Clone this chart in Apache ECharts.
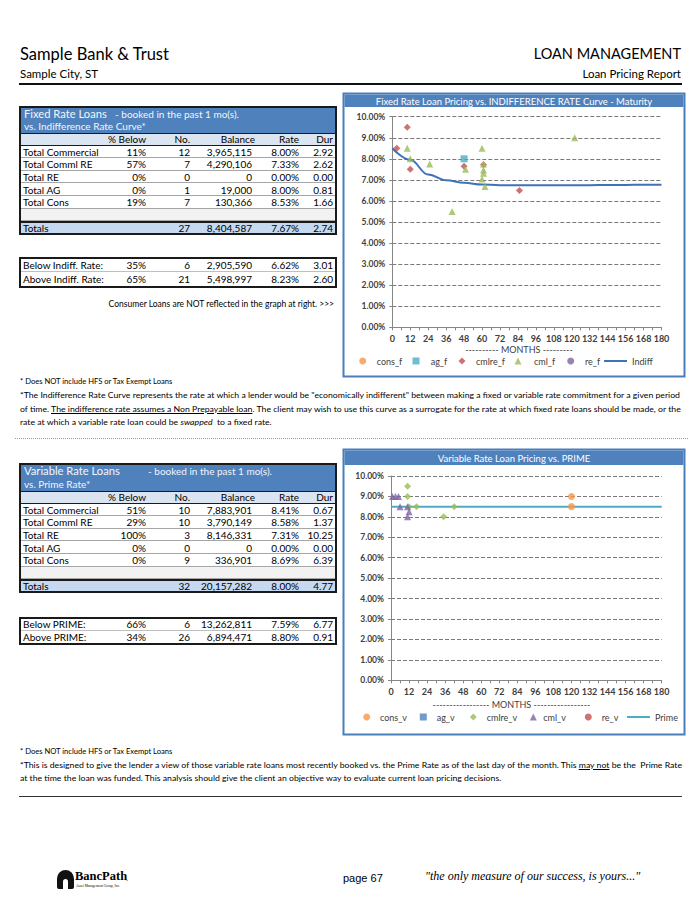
<!DOCTYPE html>
<html><head><meta charset="utf-8">
<script src="https://cdn.jsdelivr.net/npm/echarts@6/dist/echarts.min.js"></script>
<style>
html,body{margin:0;padding:0;background:#fff;}
#page{position:relative;width:700px;height:906px;overflow:hidden;font-family:Lato,"Open Sans",sans-serif;color:#000;}
#chart{position:absolute;left:0;top:0;width:700px;height:906px;}
.t{position:absolute;white-space:nowrap;}
.b{position:absolute;box-sizing:border-box;}
</style></head>
<body><div id="page"><div id="chart"></div></div>
<script>
// ---------------- DATA ----------------
const rowLabels = ['Total Commercial','Total Comml RE','Total RE','Total AG','Total Cons'];
const colHeaders = ['% Below','No.','Balance','Rate','Dur'];

const fixedPctBelow = [11,57,0,0,19];
const fixedNo = [12,7,0,1,7];
const fixedBalance = [3965115,4290106,0,19000,130366];
const fixedRate = [8.00,7.33,0.00,8.00,8.53];
const fixedDur = [2.92,2.62,0.00,0.81,1.66];
const fixedTotals = [null,27,8404587,7.67,2.74];
const fixedSplitLabels = ['Below Indiff. Rate:','Above Indiff. Rate:'];
const fixedSplitPct = [35,65];
const fixedSplitNo = [6,21];
const fixedSplitBalance = [2905590,5498997];
const fixedSplitRate = [6.62,8.23];
const fixedSplitDur = [3.01,2.60];

const varPctBelow = [51,29,100,0,0];
const varNo = [10,10,3,0,9];
const varBalance = [7883901,3790149,8146331,0,336901];
const varRate = [8.41,8.58,7.31,0.00,8.69];
const varDur = [0.67,1.37,10.25,0.00,6.39];
const varTotals = [null,32,20157282,8.00,4.77];
const varSplitLabels = ['Below PRIME:','Above PRIME:'];
const varSplitPct = [66,34];
const varSplitNo = [6,26];
const varSplitBalance = [13262811,6894471];
const varSplitRate = [7.59,8.80];
const varSplitDur = [6.77,0.91];

// chart 1 (months, rate %)
const cons_f = [];
const ag_f = [[48,8.0]];
const cmlre_f = [[3,8.5],[10,9.5],[12,7.5],[48,7.65],[61,7.72],[85,6.5]];
const cml_f = [[10,8.5],[12,8.0],[25,7.75],[40,5.5],[49,7.5],[60,8.5],[61,7.75],[61,7.47],[61,7.31],[60,7.04],[62,6.68],[122,9.0]];
const re_f = [];
const indiffMonths = [0,12,24,36,48,60,72,84,96,108,120,132,144,156,168,180];
const indiffRates = [8.50,7.95,7.25,6.98,6.86,6.78,6.75,6.74,6.74,6.74,6.75,6.75,6.76,6.76,6.77,6.77];

// chart 2
const cons_v = [[120,9.0],[120,8.5]];
const ag_v = [];
const cmlre_v = [[11,9.5],[11,9.0],[12,8.5],[17,8.5],[35,8.0],[42,8.5]];
const cml_v = [[1,9.0],[3,9.0],[5,9.0],[6,8.5],[11,8.5],[12,8.25],[11,8.0]];
const re_v = [];
const primeMonths = [0,180];
const primeRates = [8.5,8.5];

const xTicks = {min:0,max:180,step:12};
const yTicks = {min:0,max:10,step:1};

// ---------------- HTML helpers ----------------
const page = document.getElementById('page');
function T(txt,x,cy,size,o){
  o=o||{};
  const d=document.createElement('div'); d.className='t';
  const h=Math.round(size*1.4);
  d.style.fontSize=size+'px'; d.style.height=h+'px'; d.style.lineHeight=h+'px';
  d.style.top=(cy-h/2)+'px';
  if(o.align==='right'){d.style.right=(700-x)+'px';d.style.textAlign='right';}
  else if(o.align==='center'){d.style.left=(x-300)+'px';d.style.width='600px';d.style.textAlign='center';}
  else d.style.left=x+'px';
  if(o.weight) d.style.fontWeight=o.weight;
  if(o.color) d.style.color=o.color;
  if(o.style) d.style.fontStyle=o.style;
  if(o.family) d.style.fontFamily=o.family;
  if(o.html) d.innerHTML=txt; else d.textContent=txt;
  page.appendChild(d); return d;
}
function B(x,y,w,h,css){
  const d=document.createElement('div'); d.className='b';
  d.style.left=x+'px'; d.style.top=y+'px'; d.style.width=w+'px'; d.style.height=h+'px';
  Object.assign(d.style,css||{}); page.appendChild(d); return d;
}
const fInt=v=>v.toLocaleString('en-US');
const fPct=v=>v+'%';
const fRate=v=>v.toFixed(2)+'%';
const fDur=v=>v.toFixed(2);

const TL=20, TW=316, FS=10;
const colRight=[146,190,252,299,333];
const hdrRight=[146,190,255,299,333];

function buildTable(top,bandH,title,sub,subX,line2,pct,no,bal,rate,dur,tot){
  const rh=12.65, chH=12.5;
  const dataTop=top+bandH+chH;
  const totTop=dataTop+rh*6;
  const bottom=totTop+rh;
  B(TL,top,TW,bandH,{background:'#4f81bd'});
  B(TL,top+bandH,TW,chH,{background:'#dbe5f1',borderTop:'1.5px solid #1a1a1a',borderBottom:'1.5px solid #1a1a1a'});
  for(let i=0;i<6;i++){
    B(TL,dataTop+rh*i,TW,rh,{background:i===5?'#f2f2f2':'#fff',borderBottom:'1px solid #a6a6a6'});
  }
  B(TL,totTop,TW,bottom-totTop,{background:'#c6d9f1',borderTop:'2px solid #1a1a1a'});
  B(TL-1,top-1,TW+2,bottom-top+2,{border:'2px solid #1a1a1a'});
  T(title,24,top+7,11.2,{color:'#f2f6fb'});
  T(sub,subX,top+7,10,{color:'#f2f6fb'});
  T(line2,24,top+bandH-7,10,{color:'#f2f6fb'});
  colHeaders.forEach((h,j)=>T(h,hdrRight[j],top+bandH+chH/2,FS,{align:'right'}));
  for(let i=0;i<5;i++){
    const cy=dataTop+rh*i+rh/2;
    T(rowLabels[i],23,cy,FS);
    T(fPct(pct[i]),colRight[0],cy,FS,{align:'right'});
    T(String(no[i]),colRight[1],cy,FS,{align:'right'});
    T(fInt(bal[i]),colRight[2],cy,FS,{align:'right'});
    T(fRate(rate[i]),colRight[3],cy,FS,{align:'right'});
    T(fDur(dur[i]),colRight[4],cy,FS,{align:'right'});
  }
  const cy=totTop+rh/2;
  T('Totals',23,cy,FS);
  T(String(tot[1]),colRight[1],cy,FS,{align:'right'});
  T(fInt(tot[2]),colRight[2],cy,FS,{align:'right'});
  T(fRate(tot[3]),colRight[3],cy,FS,{align:'right'});
  T(fDur(tot[4]),colRight[4],cy,FS,{align:'right'});
}
function buildSplit(top,rh,labels,pct,no,bal,rate,dur){
  B(TL,top,TW,rh,{borderBottom:'1px solid #bfbfbf'});
  B(TL-1,top-1,TW+2,rh*2+2,{border:'2px solid #1a1a1a'});
  for(let i=0;i<2;i++){
    const cy=top+rh*i+rh/2;
    T(labels[i],23,cy,FS);
    T(fPct(pct[i]),colRight[0],cy,FS,{align:'right'});
    T(String(no[i]),colRight[1],cy,FS,{align:'right'});
    T(fInt(bal[i]),colRight[2],cy,FS,{align:'right'});
    T(fRate(rate[i]),colRight[3],cy,FS,{align:'right'});
    T(fDur(dur[i]),colRight[4],cy,FS,{align:'right'});
  }
}

// header
T('Sample Bank &amp; Trust',20,54,16.5,{html:true});
T('LOAN MANAGEMENT',681,54,14.5,{align:'right'});
T('Sample City, ST',20,74,11.5);
T('Loan Pricing Report',681,74,11.5,{align:'right'});
B(19,83,663,2,{background:'#111'});

buildTable(107,26,'Fixed Rate Loans','- booked in the past 1 mo(s).',115,'vs. Indifference Rate Curve*',
  fixedPctBelow,fixedNo,fixedBalance,fixedRate,fixedDur,fixedTotals);
buildSplit(257.5,14.5,fixedSplitLabels,fixedSplitPct,fixedSplitNo,fixedSplitBalance,fixedSplitRate,fixedSplitDur);
T('Consumer Loans are NOT reflected in the graph at right. >>>',334,304,8.5,{align:'right'});

buildTable(464,27,'Variable Rate Loans','- booked in the past 1 mo(s).',148,'vs. Prime Rate*',
  varPctBelow,varNo,varBalance,varRate,varDur,varTotals);
buildSplit(617.5,13.3,varSplitLabels,varSplitPct,varSplitNo,varSplitBalance,varSplitRate,varSplitDur);

// notes
const NS=7.6;
function noteLines(lines,x,ys,fitW){
  const els=lines.map((l,i)=>T(l,x,ys[i],NS,{html:true}));
  const w=els[0].getBoundingClientRect().width;
  const s=fitW/w;
  els.forEach(e=>{e.style.transformOrigin='0 50%';e.style.transform='scaleX('+s+')';});
}
T('* Does NOT include HFS or Tax Exempt Loans',20,381,NS);
noteLines([
 '*The Indifference Rate Curve represents the rate at which a lender would be "economically indifferent" between making a fixed or variable rate commitment for a given period',
 'of time. <u>The indifference rate assumes a Non Prepayable loan</u>. The client may wish to use this curve as a surrogate for the rate at which fixed rate loans should be made, or the',
 'rate at which a variable rate loan could be <i>swapped</i>&nbsp; to a fixed rate.'
],20,[395,409,422],660);
B(15,438,673,1,{borderTop:'1px dotted #9a9a9a'});
T('* Does NOT include HFS or Tax Exempt Loans',20,751,NS);
noteLines([
 '*This is designed to give the lender a view of those variable rate loans most recently booked vs. the Prime Rate as of the last day of the month. This <u>may not</u> be the&nbsp; Prime Rate',
 'at the time the loan was funded. This analysis should give the client an objective way to evaluate current loan pricing decisions.'
],20,[765,778],662);
B(19,796,663,1,{background:'#333'});

// footer
B(57,870,17,19,{background:'#111',borderRadius:'9px 9px 2px 2px'});
B(63,879,5,10,{background:'#fff',borderRadius:'3px 3px 0 0'});
T('BancPath',75,876,12.5,{family:'"Liberation Serif",serif',weight:'bold'});
T('.',126,878,8,{family:'"Liberation Serif",serif'});
T('Asset Management Group, Inc.',76,886,3.5,{family:'"Liberation Serif",serif'});
T('page 67',343,878,11,{family:'"Liberation Sans",Arial,sans-serif'});
T('"the only measure of our success, is yours..."',425,876,12,{family:'"Liberation Serif",serif',style:'italic'});

// ---------------- CHARTS ----------------
const FONT='Lato';
const chart=echarts.init(document.getElementById('chart'),null,{renderer:'svg',width:700,height:906});
const zip=(a,b)=>a.map((v,i)=>[v,b[i]]);
function xAx(gi){return {type:'value',gridIndex:gi,min:xTicks.min,max:xTicks.max,interval:xTicks.step,
  axisLine:{show:true,onZero:false,lineStyle:{color:'#868686',width:1}},
  axisTick:{show:true,length:3,lineStyle:{color:'#868686'}},
  minorTick:{show:true,splitNumber:2,length:3,lineStyle:{color:'#868686'}},
  splitLine:{show:false},
  axisLabel:{fontSize:9,fontWeight:'bold',color:'#404040',margin:7,fontFamily:FONT}};}
function yAx(gi){return {type:'value',gridIndex:gi,min:yTicks.min,max:yTicks.max,interval:yTicks.step,
  axisLine:{show:true,lineStyle:{color:'#868686',width:1}},
  axisTick:{show:true,length:3,lineStyle:{color:'#868686'}},
  splitLine:{show:true,lineStyle:{type:[4,2],color:'#7a7a7a',width:1}},
  axisLabel:{fontSize:8.5,fontWeight:'bold',color:'#404040',margin:7,fontFamily:FONT,formatter:v=>v.toFixed(2)+'%'}};}
function sc(name,data,color,symbol,gi){return {name,type:'scatter',xAxisIndex:gi,yAxisIndex:gi,data,symbol,symbolSize:7,itemStyle:{color},z:3};}
const LH=12;
const LTS={fontSize:9,color:'#404040',fontFamily:FONT,lineHeight:LH};
function leg(name,icon,markerX,textX,cy){
  const s=7;
  return {data:[{name,icon}],left:markerX-s/2,top:cy-LH/2,padding:0,itemWidth:s,itemHeight:s,
    textStyle:Object.assign({padding:[0,0,0,Math.max(0,textX-(markerX+s/2)-5)]},LTS)};}
function legLine(name,x0,x1,textX,cy){
  return {data:[{name,icon:'rect'}],left:x0,top:cy-LH/2,padding:0,itemWidth:x1-x0,itemHeight:2,
    textStyle:Object.assign({padding:[0,0,0,Math.max(0,textX-x1-5)]},LTS)};}

const option={
  animation:false,
  grid:[{left:392.3,top:116.7,width:269.2,height:210.6},{left:391,top:476,width:270.7,height:204.3}],
  xAxis:[xAx(0),xAx(1)],
  yAxis:[yAx(0),yAx(1)],
  legend:[
    leg('cons_f','circle',362.7,376.7,361), leg('ag_f','rect',416,430.7,361), leg('cmlre_f','diamond',462,476,361),
    leg('cml_f','triangle',518,534,361), leg('re_f','circle',570.7,585,361), legLine('Indiff',604,627,628,361),
    leg('cons_v','circle',366.7,380,717), leg('ag_v','rect',423.3,436.7,717), leg('cmlre_v','diamond',473.3,486.7,717),
    leg('cml_v','triangle',533.3,543.3,717), leg('re_v','circle',588.3,601.7,717), legLine('Prime',627,650,652,717)
  ],
  graphic:[
    {type:'rect',shape:{x:343.5,y:93.5,width:341,height:283},style:{fill:'none',stroke:'#4a7ebb',lineWidth:2}},
    {type:'rect',shape:{x:344.5,y:94.5,width:339,height:12.5},style:{fill:'#4f81bd'}},
    {type:'text',style:{x:514,y:101,text:'Fixed Rate Loan Pricing vs. INDIFFERENCE RATE Curve - Maturity',fill:'#fff',fontSize:9.5,fontFamily:FONT,align:'center',verticalAlign:'middle'}},
    {type:'text',style:{x:519,y:349.5,text:'---------- MONTHS ---------',fill:'#404040',fontSize:9,fontFamily:FONT,align:'center',verticalAlign:'middle'}},
    {type:'rect',shape:{x:343.5,y:449.5,width:341,height:285},style:{fill:'none',stroke:'#4a7ebb',lineWidth:2}},
    {type:'rect',shape:{x:344.5,y:450.5,width:339,height:14.5},style:{fill:'#4f81bd'}},
    {type:'text',style:{x:514,y:458,text:'Variable Rate Loan Pricing vs. PRIME',fill:'#fff',fontSize:9.5,fontFamily:FONT,align:'center',verticalAlign:'middle'}},
    {type:'text',style:{x:511.5,y:704,text:'----------------- MONTHS -----------------',fill:'#404040',fontSize:9,fontFamily:FONT,align:'center',verticalAlign:'middle'}}
  ],
  series:[
    sc('cons_f',cons_f,'#f79646','circle',0),
    sc('ag_f',ag_f,'#4bacc6','rect',0),
    sc('cmlre_f',cmlre_f,'#c0504d','diamond',0),
    sc('cml_f',cml_f,'#9bbb59','triangle',0),
    sc('re_f',re_f,'#8064a2','circle',0),
    {name:'Indiff',type:'line',xAxisIndex:0,yAxisIndex:0,data:zip(indiffMonths,indiffRates),smooth:0.4,smoothMonotone:'x',
     symbol:'none',lineStyle:{color:'#3f72b8',width:2},itemStyle:{color:'#3f72b8'},z:2},
    sc('cons_v',cons_v,'#f79646','circle',1),
    sc('ag_v',ag_v,'#4f81bd','rect',1),
    sc('cmlre_v',cmlre_v,'#9bbb59','diamond',1),
    sc('cml_v',cml_v,'#8064a2','triangle',1),
    sc('re_v',re_v,'#c0504d','circle',1),
    {name:'Prime',type:'line',xAxisIndex:1,yAxisIndex:1,data:zip(primeMonths,primeRates),
     symbol:'none',lineStyle:{color:'#4bacc6',width:2},itemStyle:{color:'#4bacc6'},z:2}
  ]
};
chart.setOption(option);
</script>
</body></html>
